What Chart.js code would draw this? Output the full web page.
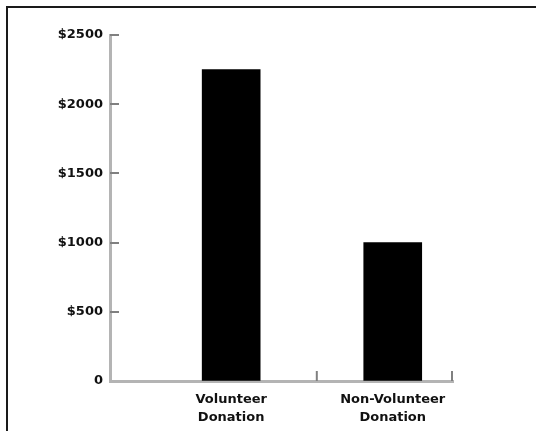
<!DOCTYPE html>
<html><head><meta charset="utf-8">
<script src="https://cdn.jsdelivr.net/npm/chart.js@4/dist/chart.umd.min.js"></script>
<style>
html,body{margin:0;padding:0;background:#fff;width:536px;height:431px;overflow:hidden}
#frame{position:absolute;left:6px;top:6px;width:600px;height:500px;border-left:2px solid #1a1a1a;border-top:2px solid #1a1a1a;box-sizing:border-box}
#wrap{position:absolute;left:0;top:0;width:536px;height:431px}
</style></head><body>
<div id="frame"></div>
<div id="wrap"><canvas id="c"></canvas></div>
<script>
const categories = ['Volunteer Donation', 'Non-Volunteer Donation'];
const donations = [2250, 1000];
const yTickValues = [0, 500, 1000, 1500, 2000, 2500];

const AXIS = '#b4b4b4';
const TICK = '#808080';
const FONT = {family: 'DejaVu Sans', size: 13, weight: 'bold'};

const inwardTicks = {
  id: 'inwardTicks',
  afterDatasetsDraw(chart) {
    const {ctx, scales: {x, y}} = chart;
    ctx.save();
    ctx.strokeStyle = TICK;
    ctx.lineWidth = 2;
    y.ticks.forEach(t => {
      if (t.value === 0) return;
      const py = Math.round(y.getPixelForValue(t.value));
      ctx.beginPath(); ctx.moveTo(y.right, py); ctx.lineTo(y.right + 9, py); ctx.stroke();
    });
    const bounds = [];
    for (let i = 0; i < categories.length - 1; i++) bounds.push(x.getPixelForValue(i + 0.53));
    bounds.push(x.right - 1);
    bounds.forEach(px => {
      ctx.beginPath(); ctx.moveTo(px, x.top); ctx.lineTo(px, x.top - 10); ctx.stroke();
    });
    ctx.restore();
  }
};

new Chart(document.getElementById('c'), {
  type: 'bar',
  data: {
    datasets: [{
      data: donations.map((v, i) => ({x: i, y: v})),
      backgroundColor: '#000',
      borderWidth: 0,
      barThickness: 58
    }]
  },
  options: {
    responsive: true,
    maintainAspectRatio: false,
    animation: false,
    layout: {padding: {left: 0, right: 83, top: 35, bottom: 0}},
    plugins: {legend: {display: false}, tooltip: {enabled: false}},
    scales: {
      x: {
        type: 'linear',
        offset: false,
        min: -0.75,
        max: 1.373,
        border: {display: true, color: AXIS, width: 3},
        grid: {display: false, offset: false},
        afterBuildTicks: s => { s.ticks = categories.map((c, i) => ({value: i})); },
        afterFit: s => { s.height = 50; },
        ticks: {
          autoSkip: false, maxRotation: 0, minRotation: 0,
          padding: 2,
          color: '#111',
          font: {family: 'DejaVu Sans', size: 13, weight: 'bold', lineHeight: 1.38},
          callback: v => categories[v] ? categories[v].split(' ') : ''
        }
      },
      y: {
        min: 0, max: 2500,
        border: {display: true, color: AXIS, width: 3},
        grid: {drawOnChartArea: false, drawTicks: false},
        afterBuildTicks: s => { s.ticks = yTickValues.map(v => ({value: v})); },
        afterFit: s => { s.width = 110; },
        ticks: {
          padding: 7,
          color: '#111',
          font: FONT,
          callback: v => v === 0 ? '0' : '$' + v
        }
      }
    }
  },
  plugins: [inwardTicks]
});
</script>
</body></html>
